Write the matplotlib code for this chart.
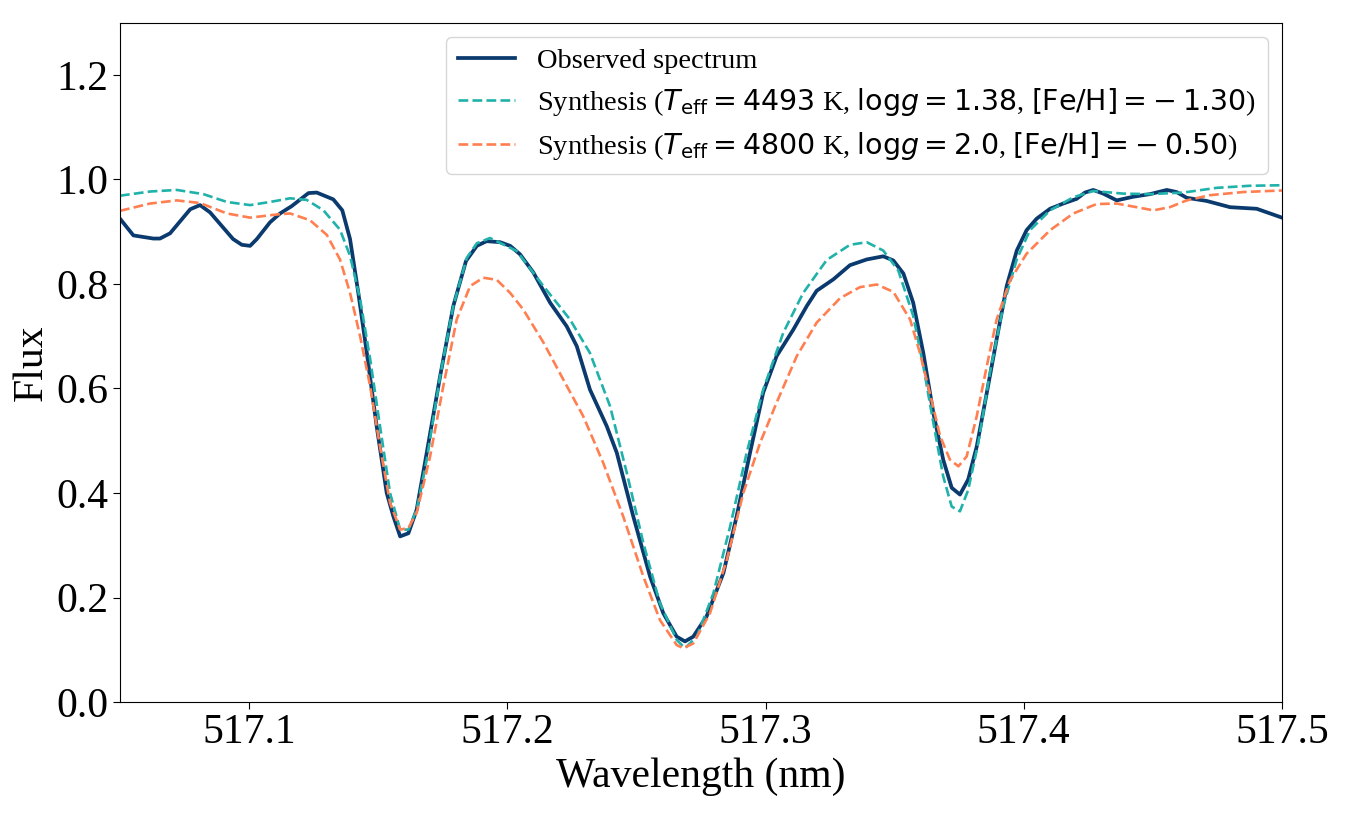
import matplotlib
matplotlib.use("Agg")
import matplotlib.pyplot as plt

# observed spectrum (nm, normalised flux)
obs_wl = [517.0500, 517.0552, 517.0629, 517.0655, 517.0694, 517.0772, 517.0810, 517.0849,
          517.0938, 517.0972, 517.1004, 517.1030, 517.1081, 517.1120, 517.1165, 517.1230,
          517.1262, 517.1326, 517.1361, 517.1391, 517.1423, 517.1456, 517.1494, 517.1533,
          517.1559, 517.1585, 517.1617, 517.1649, 517.1688, 517.1740, 517.1791, 517.1840,
          517.1882, 517.1920, 517.1972, 517.2011, 517.2049, 517.2101, 517.2166, 517.2230,
          517.2269, 517.2320, 517.2385, 517.2424, 517.2488, 517.2553, 517.2604, 517.2656,
          517.2688, 517.2720, 517.2772, 517.2837, 517.2888, 517.2940, 517.2991, 517.3043,
          517.3108, 517.3160, 517.3198, 517.3263, 517.3327, 517.3392, 517.3456, 517.3495,
          517.3534, 517.3572, 517.3611, 517.3650, 517.3688, 517.3721, 517.3753, 517.3785,
          517.3818, 517.3857, 517.3895, 517.3934, 517.3973, 517.4011, 517.4050, 517.4102,
          517.4153, 517.4205, 517.4237, 517.4269, 517.4308, 517.4360, 517.4424, 517.4489,
          517.4554, 517.4592, 517.4631, 517.4708, 517.4799, 517.4902, 517.4954, 517.5000]
obs_flux = [0.925, 0.893, 0.887, 0.887, 0.897, 0.943, 0.951, 0.937,
            0.886, 0.875, 0.873, 0.886, 0.918, 0.935, 0.949, 0.974,
            0.975, 0.962, 0.941, 0.886, 0.783, 0.668, 0.528, 0.400,
            0.355, 0.317, 0.323, 0.368, 0.477, 0.624, 0.758, 0.844,
            0.873, 0.882, 0.880, 0.873, 0.857, 0.822, 0.764, 0.719,
            0.681, 0.598, 0.528, 0.477, 0.355, 0.240, 0.170, 0.125,
            0.116, 0.125, 0.164, 0.247, 0.355, 0.477, 0.592, 0.662,
            0.713, 0.758, 0.787, 0.809, 0.836, 0.847, 0.853, 0.845,
            0.820, 0.764, 0.668, 0.553, 0.464, 0.410, 0.397, 0.426,
            0.489, 0.592, 0.694, 0.796, 0.864, 0.903, 0.925, 0.944,
            0.954, 0.963, 0.975, 0.980, 0.973, 0.960, 0.967, 0.972,
            0.980, 0.976, 0.965, 0.959, 0.947, 0.944, 0.935, 0.927]

# synthesis 1: Teff 4493 K, logg 1.38, [Fe/H] -1.30
syn1_wl = [517.0500, 517.0617, 517.0720, 517.0823, 517.0914, 517.1004, 517.1081, 517.1159,
           517.1223, 517.1288, 517.1352, 517.1391, 517.1430, 517.1469, 517.1507, 517.1546,
           517.1585, 517.1617, 517.1649, 517.1688, 517.1740, 517.1791, 517.1843, 517.1882,
           517.1933, 517.2037, 517.2140, 517.2243, 517.2320, 517.2398, 517.2463, 517.2527,
           517.2591, 517.2656, 517.2688, 517.2734, 517.2798, 517.2863, 517.2927, 517.2991,
           517.3069, 517.3146, 517.3237, 517.3327, 517.3392, 517.3456, 517.3514, 517.3572,
           517.3611, 517.3650, 517.3688, 517.3721, 517.3753, 517.3785, 517.3824, 517.3869,
           517.3921, 517.3973, 517.4024, 517.4102, 517.4192, 517.4269, 517.4385, 517.4489,
           517.4618, 517.4747, 517.4876, 517.5000]
syn1_flux = [0.969, 0.977, 0.980, 0.972, 0.957, 0.951, 0.957, 0.964,
             0.961, 0.941, 0.904, 0.854, 0.771, 0.656, 0.528, 0.400,
             0.330, 0.330, 0.368, 0.464, 0.624, 0.758, 0.850, 0.878,
             0.888, 0.863, 0.796, 0.732, 0.668, 0.566, 0.438, 0.304,
             0.189, 0.119, 0.103, 0.125, 0.208, 0.336, 0.477, 0.598,
             0.707, 0.783, 0.846, 0.875, 0.880, 0.864, 0.826, 0.739,
             0.643, 0.534, 0.432, 0.374, 0.365, 0.406, 0.496, 0.630,
             0.758, 0.847, 0.903, 0.941, 0.966, 0.978, 0.973, 0.972,
             0.975, 0.984, 0.988, 0.989]

# synthesis 2: Teff 4800 K, logg 2.0, [Fe/H] -0.50
syn2_wl = [517.0500, 517.0617, 517.0720, 517.0810, 517.0914, 517.1004, 517.1107, 517.1159,
           517.1236, 517.1301, 517.1352, 517.1391, 517.1430, 517.1469, 517.1507, 517.1546,
           517.1585, 517.1617, 517.1649, 517.1701, 517.1752, 517.1804, 517.1856, 517.1907,
           517.1959, 517.2011, 517.2062, 517.2140, 517.2217, 517.2294, 517.2372, 517.2449,
           517.2527, 517.2591, 517.2656, 517.2682, 517.2720, 517.2785, 517.2850, 517.2914,
           517.2979, 517.3043, 517.3121, 517.3198, 517.3289, 517.3366, 517.3431, 517.3495,
           517.3560, 517.3598, 517.3637, 517.3676, 517.3714, 517.3747, 517.3779, 517.3818,
           517.3857, 517.3895, 517.3947, 517.4011, 517.4102, 517.4192, 517.4282, 517.4360,
           517.4437, 517.4502, 517.4566, 517.4631, 517.4721, 517.4850, 517.5000]
syn2_flux = [0.940, 0.954, 0.960, 0.955, 0.935, 0.927, 0.933, 0.935,
             0.922, 0.894, 0.847, 0.783, 0.700, 0.604, 0.489, 0.381,
             0.330, 0.333, 0.362, 0.470, 0.604, 0.732, 0.796, 0.812,
             0.808, 0.783, 0.751, 0.688, 0.617, 0.547, 0.457, 0.355,
             0.240, 0.157, 0.109, 0.103, 0.112, 0.170, 0.272, 0.400,
             0.496, 0.573, 0.662, 0.726, 0.773, 0.794, 0.799, 0.785,
             0.732, 0.668, 0.590, 0.509, 0.464, 0.451, 0.470, 0.547,
             0.643, 0.732, 0.807, 0.858, 0.903, 0.935, 0.953, 0.954,
             0.947, 0.941, 0.947, 0.960, 0.970, 0.976, 0.979]

labels = ["Observed spectrum",
          r"Synthesis ($T_{\rm eff}=4493$ K, $\mathrm{log}g=1.38$, $\rm [Fe/H]=-\:1.30$)",
          r"Synthesis ($T_{\rm eff}=4800$ K, $\mathrm{log}g=2.0$, $\rm [Fe/H]=-\:0.50$)"]
xticks = [517.1, 517.2, 517.3, 517.4, 517.5]
yticks = [0.0, 0.2, 0.4, 0.6, 0.8, 1.0, 1.2]

plt.rcParams["font.family"] = ["Liberation Serif", "DejaVu Serif"]
plt.rcParams["mathtext.fontset"] = "dejavusans"

fig = plt.figure(figsize=(13.51, 8.18), dpi=100)
ax = fig.add_axes([0.0888, 0.1418, 0.8601, 0.8304])

ax.plot(obs_wl, obs_flux, color="#0b3a6e", lw=2.7, label=labels[0])
ax.plot(syn1_wl, syn1_flux, color="lightseagreen", lw=1.9, ls="--", label=labels[1])
ax.plot(syn2_wl, syn2_flux, color="coral", lw=1.9, ls="--", label=labels[2])

ax.set_xlim(517.05, 517.5)
ax.set_ylim(0, 1.3)
ax.set_xticks(xticks)
ax.set_yticks(yticks)
ax.set_xticklabels([f"{t:.1f}" for t in xticks])
ax.set_yticklabels([f"{t:.1f}" for t in yticks])
ax.tick_params(labelsize=30, length=5)
ax.set_xlabel("Wavelength (nm)", fontsize=30, labelpad=4)
ax.set_ylabel("Flux", fontsize=30, labelpad=4)
ax.legend(loc="upper right", fontsize=20.5, labelspacing=0.42)

fig.savefig("out.png", dpi=100)
